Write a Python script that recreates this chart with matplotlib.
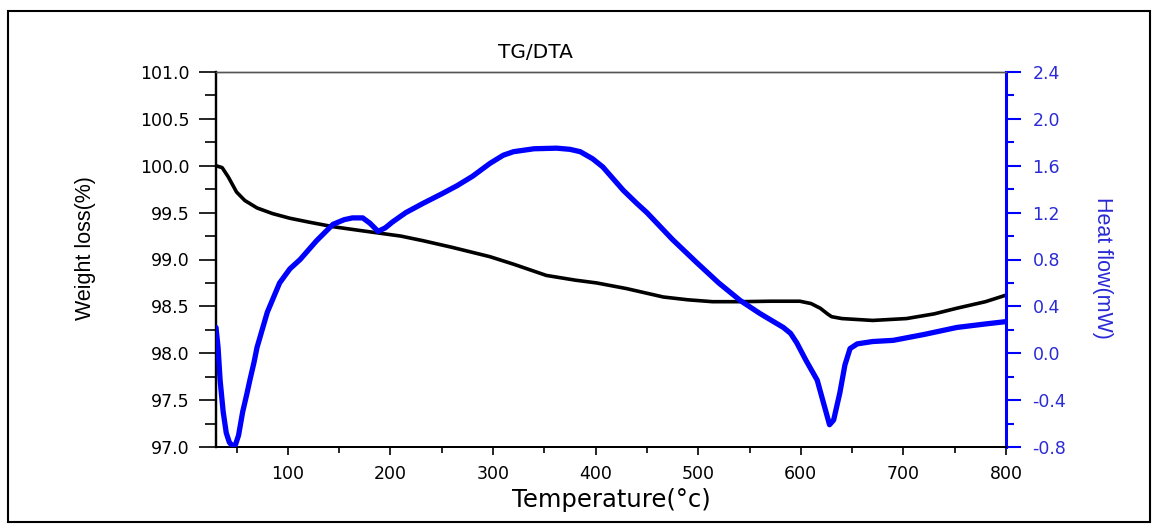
import matplotlib
matplotlib.use("Agg")
import matplotlib.pyplot as plt
from matplotlib.patches import Rectangle
from matplotlib.ticker import MultipleLocator

# ---- data ----
tg_temp = [30, 36, 42, 50, 58, 70, 85, 102, 120, 144, 170, 190, 210, 232, 260, 297,
           320, 352, 380, 401, 430, 466, 490, 514, 541, 570, 599, 610, 619, 626, 630,
           640, 670, 703, 730, 752, 780, 800]
tg_weight = [100.00, 99.98, 99.88, 99.72, 99.63, 99.55, 99.49, 99.44, 99.40, 99.35,
             99.31, 99.28, 99.25, 99.20, 99.13, 99.03, 98.95, 98.83, 98.78, 98.75,
             98.69, 98.60, 98.57, 98.55, 98.55, 98.555, 98.555, 98.53, 98.48, 98.42,
             98.39, 98.37, 98.35, 98.37, 98.42, 98.48, 98.55, 98.62]

dta_temp = [30, 32, 34, 37, 40, 43, 46, 49, 52, 56, 60, 63, 67, 70, 80, 92, 102, 112,
            128, 144, 155, 163, 173, 180, 188, 195, 202, 215, 232, 250, 265, 280, 297,
            310, 320, 340, 362, 375, 385, 397, 407, 417, 427, 440, 450, 475, 499, 520,
            541, 560, 583, 590, 596, 605, 616, 622, 628, 632, 638, 643, 648, 655, 670,
            690, 720, 752, 780, 800]
dta_heat = [0.22, 0.05, -0.23, -0.50, -0.68, -0.76, -0.79, -0.78, -0.70, -0.50, -0.35,
            -0.23, -0.08, 0.05, 0.35, 0.60, 0.72, 0.80, 0.96, 1.10, 1.14, 1.155, 1.155,
            1.11, 1.04, 1.07, 1.12, 1.20, 1.28, 1.36, 1.43, 1.51, 1.62, 1.69, 1.72,
            1.745, 1.75, 1.74, 1.72, 1.66, 1.59, 1.49, 1.39, 1.28, 1.20, 0.97, 0.77,
            0.60, 0.45, 0.34, 0.22, 0.17, 0.09, -0.06, -0.23, -0.42, -0.61, -0.57,
            -0.34, -0.10, 0.04, 0.08, 0.10, 0.11, 0.16, 0.22, 0.25, 0.27]

x_ticks = [100, 200, 300, 400, 500, 600, 700, 800]
left_ticks = [97.0, 97.5, 98.0, 98.5, 99.0, 99.5, 100.0, 100.5, 101.0]
right_ticks = [-0.8, -0.4, 0.0, 0.4, 0.8, 1.2, 1.6, 2.0, 2.4]

title = "TG/DTA"
xlabel = "Temperature(\u00b0c)"
ylabel_left = "Weight loss(%)"
ylabel_right = "Heat flow(mW)"

# ---- style ----
plt.rcParams['font.family'] = ['DejaVu Sans']
BLUE = '#0000ff'
BLUE_TXT = '#2a2ad6'
narrow = ['Liberation Sans', 'DejaVu Sans']

W, H = 1156, 527
fig = plt.figure(figsize=(W / 100, H / 100), dpi=100)
fig.patch.set_facecolor('white')

ax_l, ax_r, ax_t, ax_b = 216, 1006, 72, 447
ax = fig.add_axes([ax_l / W, 1 - ax_b / H, (ax_r - ax_l) / W, (ax_b - ax_t) / H])
ax2 = ax.twinx()

ax.plot(tg_temp, tg_weight, color='black', lw=2.6, solid_capstyle='round',
        solid_joinstyle='round', zorder=3)
ax2.plot(dta_temp, dta_heat, color=BLUE, lw=3.8, solid_capstyle='round',
         solid_joinstyle='round', zorder=3)

ax.set_xlim(30, 800)
ax.set_ylim(97.0, 101.0)
ax2.set_ylim(-0.8, 2.4)

ax.set_xticks(x_ticks)
ax.xaxis.set_minor_locator(MultipleLocator(50))
ax.set_yticks(left_ticks)
ax.set_yticklabels([f"{v:.1f}" for v in left_ticks])
ax.yaxis.set_minor_locator(MultipleLocator(0.25))
ax2.set_yticks(right_ticks)
ax2.set_yticklabels([f"{v:.1f}" for v in right_ticks])
ax2.yaxis.set_minor_locator(MultipleLocator(0.2))

TS = 12.5
ax.tick_params(axis='x', which='major', direction='out', length=6, width=1.2,
               labelsize=TS, pad=7, top=False)
ax.tick_params(axis='x', which='minor', direction='out', length=4, width=1.2, top=False)
ax.tick_params(axis='y', which='major', direction='out', length=12, width=1.2,
               labelsize=TS, pad=7)
ax.tick_params(axis='y', which='minor', direction='out', length=8, width=1.2)
ax2.tick_params(axis='y', which='major', direction='out', length=11, width=1.5,
                labelsize=TS, pad=8, colors=BLUE, labelcolor=BLUE_TXT)
ax2.tick_params(axis='y', which='minor', direction='out', length=6, width=1.5, colors=BLUE)

for a in (ax, ax2):
    a.spines['top'].set_color('#555555')
    a.spines['top'].set_linewidth(1.0)
    a.spines['left'].set_linewidth(1.6)
    a.spines['bottom'].set_linewidth(1.4)
ax2.spines['right'].set_color(BLUE)
ax2.spines['right'].set_linewidth(2.2)
ax.spines['right'].set_visible(False)

ax.set_xlabel(xlabel, fontsize=17.5, va='center')
ax.xaxis.set_label_coords(0.5, -(500 - ax_b) / (ax_b - ax_t))
ax.set_ylabel(ylabel_left, fontsize=15.5, family=narrow, va='center')
ax.yaxis.set_label_coords(-(ax_l - 85) / (ax_r - ax_l), (ax_b - 248) / (ax_b - ax_t))
ax2.set_ylabel(ylabel_right, fontsize=15.5, family=narrow, color=BLUE_TXT,
               rotation=270, va='center')
ax2.yaxis.set_label_coords((1103 - ax_l) / (ax_r - ax_l), (ax_b - 268) / (ax_b - ax_t))

fig.text(535 / W, 1 - 53 / H, title, ha='center', va='center', fontsize=14.5)

fig.patches.append(Rectangle((8 / W, 5 / H), (1150 - 8) / W, (522 - 11) / H,
                             transform=fig.transFigure, fill=False,
                             edgecolor='black', lw=1.5))

fig.savefig('out.png', dpi=100)
